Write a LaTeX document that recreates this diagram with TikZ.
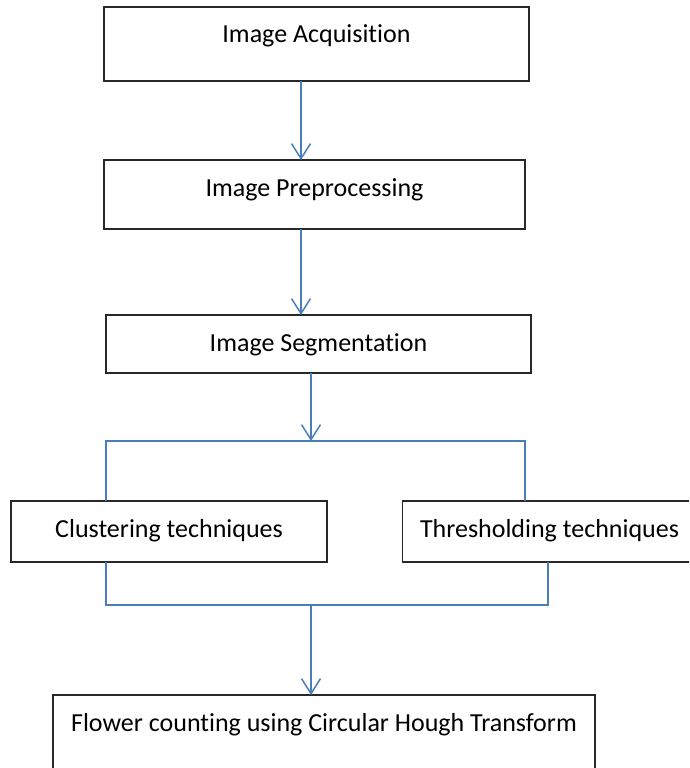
\documentclass[tikz,border=0pt]{standalone}
\usepackage{fontspec}
\setmainfont[Ligatures=NoCommon]{Carlito}
\usetikzlibrary{arrows.meta,positioning}
\definecolor{LineBlue}{RGB}{74,126,187}
\definecolor{Black85}{RGB}{40,40,40}

\begin{document}
\begin{tikzpicture}[x=1pt,y=-1pt,
    box/.style={draw=Black85,line width=1.7pt,inner sep=0pt,outer sep=0pt,anchor=north,text height=36pt,font=\fontsize{26}{30}\selectfont},
    link/.style={LineBlue,line width=1.5pt},
    arrow/.style={link,-{Straight Barb[length=15pt,width=19pt,line width=1.5pt]}}
]

% Frame of the page
\useasboundingbox (0,0) rectangle (689,768);
\clip (0,0) rectangle (689,768);

% Main chain
\node[box,minimum width=425pt,text depth=38pt] (acq) at (316.5,7) {Image Acquisition};
\node[box,minimum width=421pt,text depth=33pt] (pre) at (314.5,160) {Image Preprocessing};
\node[box,minimum width=425pt,text depth=22pt] (seg) at (318.5,315) {Image Segmentation};

% Two techniques
\node[box,minimum width=316pt,text depth=25pt] (clus) at (169,501) {Clustering techniques};
\node[box,minimum width=294pt,text depth=25pt] (thr) at (549.5,501) {Thresholding techniques};

% Last step
\node[box,minimum width=542pt,text depth=70pt] (hough) at (324,695) {Flower counting using Circular Hough Transform};

% Branch points
\coordinate (trunk) at (301,0);
\coordinate (split) at (311,441);
\coordinate (splitL) at (106,441);
\coordinate (splitR) at (525,441);
\coordinate (join) at (311,605);
\coordinate (joinL) at (106,605);
\coordinate (joinR) at (548,605);

% Connectors
\draw[arrow] (acq.south -| trunk) -- (pre.north -| trunk);
\draw[arrow] (pre.south -| trunk) -- (seg.north -| trunk);
\draw[arrow] (seg.south -| split) -- (split);
\draw[link] (clus.north -| splitL) -- (splitL) -- (splitR) -- (thr.north -| splitR);
\draw[link] (clus.south -| joinL) -- (joinL) -- (joinR) -- (thr.south -| joinR);
\draw[arrow] (join) -- (hough.north -| join);

\end{tikzpicture}
\end{document}
